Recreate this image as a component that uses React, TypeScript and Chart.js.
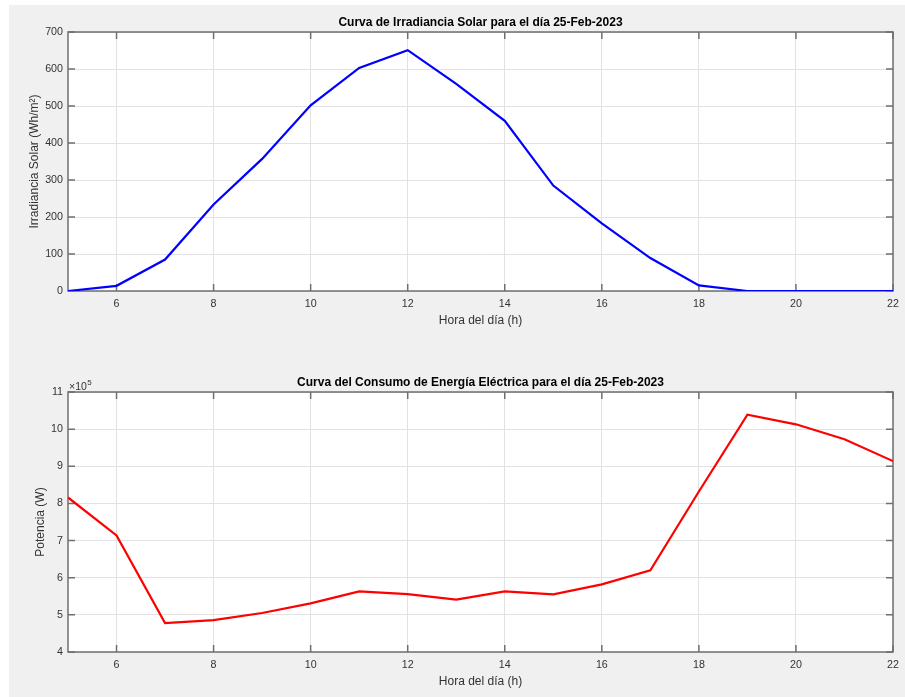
import React, { useEffect, useRef } from "react";
import { Chart, registerables } from "chart.js";

Chart.register(...registerables);

const HOURS = [5, 6, 7, 8, 9, 10, 11, 12, 13, 14, 15, 16, 17, 18, 19, 20, 21, 22];
const X_TICKS = [6, 8, 10, 12, 14, 16, 18, 20, 22];
const IRRADIANCE = [0, 14, 85, 234, 357, 502, 603, 651, 560, 460, 285, 183, 89, 15, 0, 0, 0, 0];
const IRR_TICKS = [0, 100, 200, 300, 400, 500, 600, 700];
const POWER = [816000, 714000, 478000, 486000, 505000, 531000, 563000, 556000, 541000, 563000, 555000, 582000, 620000, 832000, 1039000, 1013000, 973000, 914000];
const POWER_TICKS = [400000, 500000, 600000, 700000, 800000, 900000, 1000000, 1100000];

const TITLE_1 = "Curva de Irradiancia Solar para el día 25-Feb-2023";
const TITLE_2 = "Curva del Consumo de Energía Eléctrica para el día 25-Feb-2023";
const X_LABEL = "Hora del día (h)";
const Y_LABEL_1 = "Irradiancia Solar (Wh/m²)";
const Y_LABEL_2 = "Potencia (W)";

const FONT = "'Liberation Sans', Arial, Helvetica, sans-serif";
const AXIS_COLOR = "#6f6f6f";
const TEXT_COLOR = "#333333";
const GRID_COLOR = "#e2e2e2";

type PanelOpts = {
  title: string;
  yLabel: string;
  yLabelOffset: number;
  exponent?: string;
};

const matlabPlugin = {
  id: "matlabAxes",
  beforeDraw(chart: any) {
    const { ctx, chartArea: a } = chart;
    ctx.save();
    ctx.fillStyle = "#ffffff";
    ctx.fillRect(a.left, a.top, a.right - a.left, a.bottom - a.top);
    ctx.restore();
  },
  beforeDatasetsDraw(chart: any) {
    const { ctx, chartArea: a } = chart;
    const xs = chart.scales.x;
    const ys = chart.scales.y;
    ctx.save();
    ctx.strokeStyle = AXIS_COLOR;
    ctx.lineWidth = 1.5;
    ctx.strokeRect(a.left, a.top, a.right - a.left, a.bottom - a.top);
    const tl = 7;
    ctx.beginPath();
    xs.ticks.forEach((t: any) => {
      const px = xs.getPixelForValue(t.value);
      ctx.moveTo(px, a.bottom);
      ctx.lineTo(px, a.bottom - tl);
      ctx.moveTo(px, a.top);
      ctx.lineTo(px, a.top + tl);
    });
    ys.ticks.forEach((t: any) => {
      const py = ys.getPixelForValue(t.value);
      ctx.moveTo(a.left, py);
      ctx.lineTo(a.left + tl, py);
      ctx.moveTo(a.right, py);
      ctx.lineTo(a.right - tl, py);
    });
    ctx.stroke();
    ctx.restore();
  },
  afterDraw(chart: any, _args: any, opts: PanelOpts) {
    const { ctx, chartArea: a } = chart;
    const cx = (a.left + a.right) / 2;
    ctx.save();
    ctx.fillStyle = "#000000";
    ctx.textAlign = "center";
    ctx.textBaseline = "alphabetic";
    ctx.font = `bold 12px ${FONT}`;
    ctx.fillText(opts.title, cx, a.top - 6);
    ctx.fillStyle = TEXT_COLOR;
    ctx.font = `12px ${FONT}`;
    ctx.fillText(X_LABEL, cx, a.bottom + 33);
    ctx.save();
    ctx.translate(a.left - opts.yLabelOffset, (a.top + a.bottom) / 2);
    ctx.rotate(-Math.PI / 2);
    ctx.textBaseline = "middle";
    ctx.fillText(opts.yLabel, 0, 0);
    ctx.restore();
    if (opts.exponent) {
      ctx.textAlign = "left";
      ctx.textBaseline = "alphabetic";
      ctx.font = `10.5px ${FONT}`;
      ctx.fillText("×10", a.left + 1, a.top - 2);
      const w = ctx.measureText("×10").width;
      ctx.font = `8px ${FONT}`;
      ctx.fillText(opts.exponent, a.left + 1 + w + 0.5, a.top - 7);
    }
    ctx.restore();
  },
};

function makeConfig(
  data: number[],
  color: string,
  yMin: number,
  yMax: number,
  yTicks: number[],
  yFmt: (v: number) => string,
  xHeight: number,
  padTop: number,
  panel: PanelOpts
): any {
  return {
    type: "line",
    data: {
      labels: HOURS,
      datasets: [
        {
          data: HOURS.map((h, i) => ({ x: h, y: data[i] })),
          borderColor: color,
          borderWidth: 2.2,
          pointRadius: 0,
          tension: 0,
          fill: false,
        },
      ],
    },
    plugins: [matlabPlugin],
    options: {
      animation: false,
      responsive: false,
      devicePixelRatio: 1,
      layout: { padding: { top: padTop, right: 12, left: 0, bottom: 0 } },
      plugins: {
        legend: { display: false },
        tooltip: { enabled: false },
        title: { display: false },
        matlabAxes: panel,
      },
      scales: {
        x: {
          type: "linear",
          min: 5,
          max: 22,
          afterBuildTicks: (s: any) => {
            s.ticks = X_TICKS.map((v) => ({ value: v }));
          },
          afterFit: (s: any) => {
            s.height = xHeight;
            s.paddingLeft = 0;
            s.paddingRight = 0;
          },
          grid: { color: GRID_COLOR, lineWidth: 1, drawTicks: false },
          border: { display: false },
          ticks: {
            padding: 7,
            color: TEXT_COLOR,
            font: { family: FONT, size: 10.7 },
            maxRotation: 0,
            autoSkip: false,
            callback: (v: any) => String(v),
          },
        },
        y: {
          type: "linear",
          min: yMin,
          max: yMax,
          afterBuildTicks: (s: any) => {
            s.ticks = yTicks.map((v) => ({ value: v }));
          },
          afterFit: (s: any) => {
            s.width = 68;
          },
          grid: { color: GRID_COLOR, lineWidth: 1, drawTicks: false },
          border: { display: false },
          ticks: {
            padding: 5,
            color: TEXT_COLOR,
            font: { family: FONT, size: 10.7 },
            autoSkip: false,
            callback: (v: any) => yFmt(Number(v)),
          },
        },
      },
    },
  };
}

function Panel(props: { top: number; height: number; config: any }) {
  const ref = useRef<HTMLCanvasElement | null>(null);
  useEffect(() => {
    if (!ref.current) return;
    const chart = new Chart(ref.current, props.config);
    return () => chart.destroy();
  }, []);
  return (
    <canvas
      ref={ref}
      width={905}
      height={props.height}
      style={{ position: "absolute", left: 0, top: props.top, width: 905, height: props.height }}
    />
  );
}

export default function App() {
  const cfg1 = makeConfig(IRRADIANCE, "#0000ff", 0, 700, IRR_TICKS, (v) => String(v), 54, 32, {
    title: TITLE_1,
    yLabel: Y_LABEL_1,
    yLabelOffset: 33,
  });
  const cfg2 = makeConfig(POWER, "#ff0000", 400000, 1100000, POWER_TICKS, (v) => String(Math.round(v / 100000)), 45, 47, {
    title: TITLE_2,
    yLabel: Y_LABEL_2,
    yLabelOffset: 27,
    exponent: "5",
  });
  return (
    <div style={{ position: "absolute", left: 0, top: 0, width: 905, height: 697, background: "#ffffff", overflow: "hidden" }}>
      <div style={{ position: "absolute", left: 9, top: 5, width: 896, height: 692, background: "#f0f0f0" }} />
      <Panel top={0} height={345} config={cfg1} />
      <Panel top={345} height={352} config={cfg2} />
    </div>
  );
}
